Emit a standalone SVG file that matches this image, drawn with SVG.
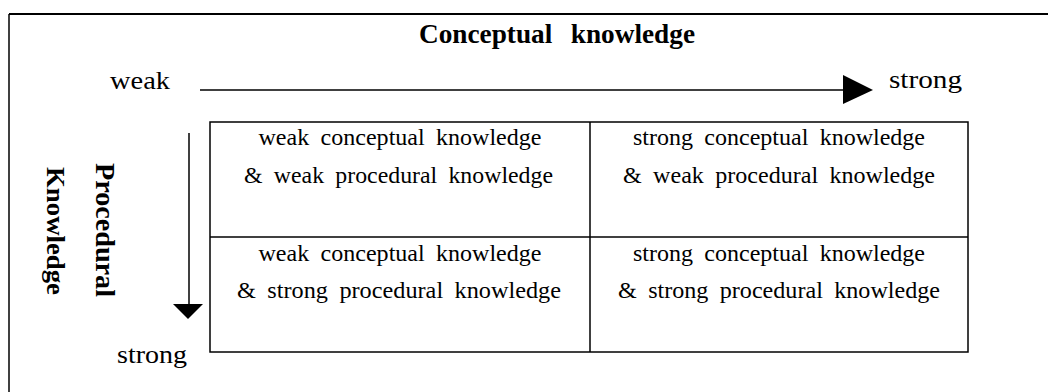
<svg xmlns="http://www.w3.org/2000/svg" width="1048" height="392" viewBox="0 0 1048 392">
<style>
.t{font-family:"Liberation Serif","Times New Roman",serif;fill:#000}
.cell{font-size:22.5px;text-anchor:middle;word-spacing:5px}
.lbl{font-size:25px}
.b{font-weight:bold}
.ln{stroke:#000;fill:none}
</style>
<rect width="1048" height="392" fill="#fff"/>
<g id="frame">
<line class="ln" x1="9" y1="14" x2="1048" y2="14" stroke-width="2"/>
<line class="ln" x1="9" y1="14" x2="9" y2="392" stroke-width="1.5"/>
</g>
<g id="title"><text class="t b" x="557" y="43" font-size="28" text-anchor="middle" word-spacing="12" textLength="276" lengthAdjust="spacingAndGlyphs">Conceptual knowledge</text></g>
<g id="axis-labels">
<text class="t lbl" x="110" y="89" textLength="60" lengthAdjust="spacingAndGlyphs">weak</text>
<text class="t lbl" x="889" y="88" textLength="73" lengthAdjust="spacingAndGlyphs">strong</text>
<text class="t lbl" x="117" y="363" textLength="70" lengthAdjust="spacingAndGlyphs">strong</text>
<text class="t b" transform="translate(96,163) rotate(90)" font-size="27" textLength="134" lengthAdjust="spacingAndGlyphs">Procedural</text>
<text class="t b" transform="translate(47,167) rotate(90)" font-size="25" textLength="128" lengthAdjust="spacingAndGlyphs">Knowledge</text>
</g>
<g id="connectors">
<line class="ln" x1="200" y1="90" x2="846" y2="90" stroke-width="1.5"/>
<polygon points="843,75 873,90 843,104" fill="#000"/>
<line class="ln" x1="189" y1="133" x2="189" y2="306" stroke-width="1.5"/>
<polygon points="173,304 203,304 188,319" fill="#000"/>
</g>
<g id="grid">
<rect class="ln" x="210" y="122" width="758" height="230" stroke-width="1.5"/>
<line class="ln" x1="590" y1="122" x2="590" y2="352" stroke-width="1.5"/>
<line class="ln" x1="210" y1="237" x2="968" y2="237" stroke-width="1.5"/>
</g>
<g id="cell-weak-weak">
<text class="t cell" x="400" y="145" textLength="283" lengthAdjust="spacingAndGlyphs">weak conceptual knowledge</text>
<text class="t cell" x="398.5" y="183" textLength="309" lengthAdjust="spacingAndGlyphs">&amp; weak procedural knowledge</text>
</g>
<g id="cell-strong-weak">
<text class="t cell" x="779" y="145" textLength="292" lengthAdjust="spacingAndGlyphs">strong conceptual knowledge</text>
<text class="t cell" x="779" y="183" textLength="312" lengthAdjust="spacingAndGlyphs">&amp; weak procedural knowledge</text>
</g>
<g id="cell-weak-strong">
<text class="t cell" x="400" y="261" textLength="283" lengthAdjust="spacingAndGlyphs">weak conceptual knowledge</text>
<text class="t cell" x="399" y="298" textLength="324" lengthAdjust="spacingAndGlyphs">&amp; strong procedural knowledge</text>
</g>
<g id="cell-strong-strong">
<text class="t cell" x="779" y="261" textLength="292" lengthAdjust="spacingAndGlyphs">strong conceptual knowledge</text>
<text class="t cell" x="779" y="298" textLength="322" lengthAdjust="spacingAndGlyphs">&amp; strong procedural knowledge</text>
</g>
</svg>
